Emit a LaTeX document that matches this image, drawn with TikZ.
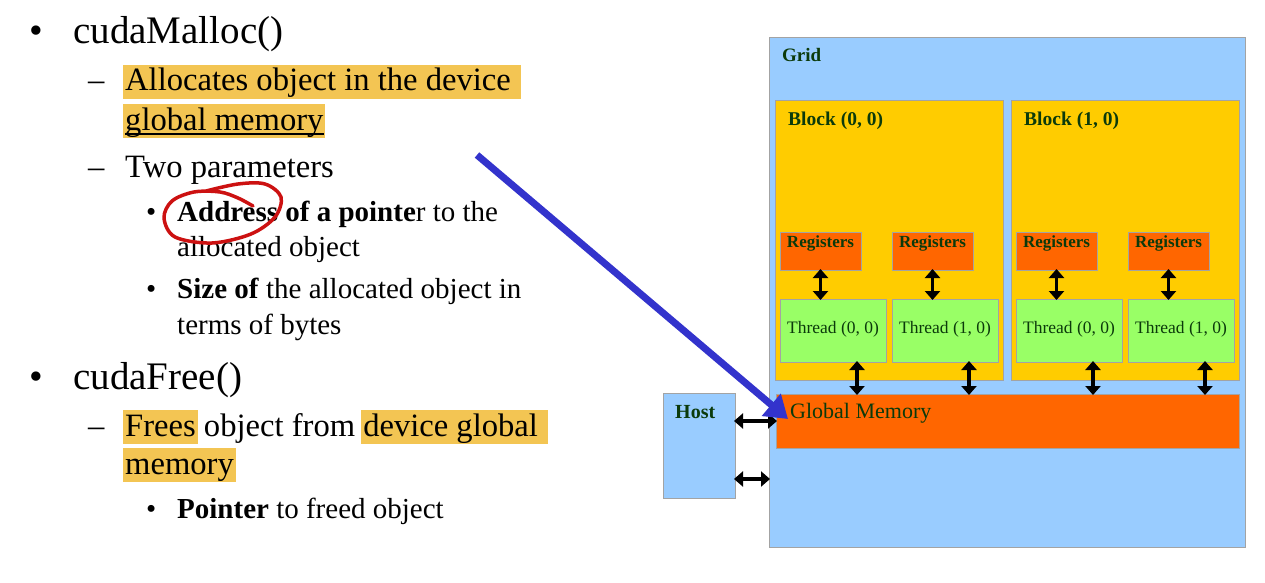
\documentclass[tikz,border=0pt]{standalone}
\usepackage{fontspec}
\setmainfont{Liberation Serif}
\usetikzlibrary{arrows.meta}

\definecolor{hl}{HTML}{F3C553}
\definecolor{gridblue}{HTML}{99CCFF}
\definecolor{blockgold}{HTML}{FFCC00}
\definecolor{regorange}{HTML}{FF6600}
\definecolor{threadgreen}{HTML}{99FF66}
\definecolor{labelgreen}{HTML}{0B3A0B}
\definecolor{boxedge}{HTML}{A3A3A3}
\definecolor{pointerblue}{HTML}{3333CC}
\definecolor{circlered}{HTML}{CC1111}

% highlighter mark behind a phrase
\newcommand\hlt[1]{\leavevmode\setbox0\hbox{#1}%
  \rlap{\hspace{-2pt}\textcolor{hl}{\rule[-0.26em]{\dimexpr\wd0+4pt\relax}{1.07em}}}\box0\relax}

\begin{document}
\begin{tikzpicture}[x=1pt,y=-1pt,
  box/.style={draw=boxedge, line width=1pt, anchor=north west, inner sep=0pt, outer sep=0pt},
  lbl/.style={anchor=base west, inner sep=0pt, text=labelgreen},
  txt/.style={anchor=base west, inner sep=0pt},
  lone/.style={txt, font=\fontsize{39}{45}\selectfont},
  ltwo/.style={txt, font=\fontsize{32.6}{38}\selectfont},
  lthree/.style={txt, font=\fontsize{29}{34}\selectfont},
  dbl/.style={line width=3.4pt, {Triangle[length=9pt,width=15pt]}-{Triangle[length=9pt,width=15pt]}, shorten <=-1pt, shorten >=-1pt},
]
\useasboundingbox (0,0) rectangle (1265,583);

% ---------- bullet list ----------
\node[lone] (b1) at (29,44) {•};
\node[lone] (t1) at (73,44) {cudaMalloc()};
\node[ltwo] (d1) at (88,91) {–};
\node[ltwo] (t2) at (125,91) {\hlt{Allocates object in the device }};
\node[ltwo] (t3) at (125,130) {\hlt{global memory}};
\draw[line width=1.4pt] ([yshift=-4pt]t3.base west) -- ([yshift=-4pt]t3.base east);
\node[ltwo] (d2) at (88,177) {–};
\node[ltwo] (t4) at (125,177) {Two parameters};
\node[lthree] (b2) at (146,221) {•};
\node[lthree] (t5) at (177,221) {\textbf{Address of a pointe}r to the};
\node[lthree] (t6) at (177,256) {allocated object};
\node[lthree] (b3) at (146,298) {•};
\node[lthree] (t7) at (177,298) {\textbf{Size of} the allocated object in};
\node[lthree] (t8) at (177,334) {terms of bytes};
\node[lone] (b4) at (29,389) {•};
\node[lone] (t9) at (73,389) {cudaFree()};
\node[ltwo] (d3) at (88,436) {–};
\node[ltwo] (t10) at (125,436) {\hlt{Frees} object from \hlt{device global }};
\node[ltwo] (t11) at (125,474) {\hlt{memory}};
\node[lthree] (b5) at (146,518) {•};
\node[lthree] (t12) at (177,518) {\textbf{Pointer} to freed object};

% hand-drawn ring around "Address"
\draw[circlered, line width=3.5pt, line cap=round, line join=round]
  plot[smooth, tension=0.55] coordinates {(206,191) (238,184) (265,184) (281,197) (275,217) (251,234) (212,243) (175,237) (164,218) (172,201) (194,192) (220,192) (238,198) (253,206)};

% ---------- memory model ----------
\node[box, fill=gridblue, minimum width=476pt, minimum height=509pt] (grid) at (769,38) {};
\node[lbl, font=\bfseries\fontsize{19}{22}\selectfont] (gridlbl) at (782,62) {Grid};

\node[box, fill=blockgold, minimum width=228pt, minimum height=279pt] (blk0) at (775,101) {};
\node[box, fill=blockgold, minimum width=228pt, minimum height=279pt] (blk1) at (1011,101) {};
\node[lbl, font=\bfseries\fontsize{19.5}{22}\selectfont] (blk0lbl) at (788,125) {Block (0, 0)};
\node[lbl, font=\bfseries\fontsize{19.5}{22}\selectfont] (blk1lbl) at (1024,125) {Block (1, 0)};

% registers
\foreach \n/\x in {r00/780, r01/892, r10/1016, r11/1128}{
  \node[box, fill=regorange, minimum width=81pt, minimum height=38pt] (\n) at (\x,232) {};
  \node[lbl, font=\bfseries\fontsize{17}{20}\selectfont, anchor=base] at ([yshift=-15pt]\n.north) {Registers};
}
% threads
\foreach \n/\x/\t in {h00/780/{Thread (0, 0)}, h01/892/{Thread (1, 0)}, h10/1016/{Thread (0, 0)}, h11/1128/{Thread (1, 0)}}{
  \node[box, fill=threadgreen, minimum width=106pt, minimum height=63pt] (\n) at (\x,299) {};
  \node[lbl, font=\fontsize{17.5}{20}\selectfont, anchor=base] at ([yshift=-3pt]\n.center) {\t};
}

% global memory and host
\node[box, fill=regorange, minimum width=463pt, minimum height=54pt] (gm) at (776,394) {};
\node[lbl, font=\fontsize{22}{25}\selectfont] (gmlbl) at (790,418) {Global Memory};
\node[box, fill=gridblue, minimum width=72pt, minimum height=105pt] (host) at (663,393) {};
\node[lbl, font=\bfseries\fontsize{20}{23}\selectfont] (hostlbl) at (675,418) {Host};

% register <-> thread
\foreach \r/\h in {r00/h00, r01/h01, r10/h10, r11/h11}
  \draw[dbl] (\r.south) -- (\r.south |- \h.north);
% thread <-> global memory
\foreach \h in {h00, h01, h10, h11}
  \draw[dbl] ([xshift=24pt]\h.south) -- ([xshift=24pt]\h.south |- gm.north);
% host <-> device
\draw[dbl] ([yshift=24.5pt]host.east) -- ([yshift=24.5pt]host.east -| gm.west);
\draw[dbl] ([yshift=-33.5pt]host.east) -- ([yshift=-33.5pt]host.east -| grid.west);

% pointer from the slide text to global memory
\coordinate (pstart) at (477,155);
\draw[pointerblue, line width=7pt, -{Triangle[length=22pt,width=28pt]}]
  (pstart) -- ([xshift=12pt,yshift=-25pt]gm.north west);
\end{tikzpicture}
\end{document}
